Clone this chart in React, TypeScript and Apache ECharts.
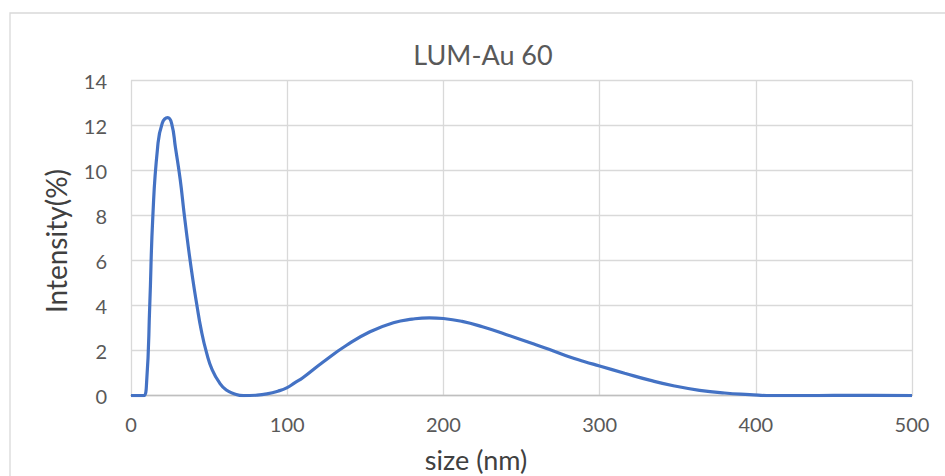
import React, { useEffect, useRef } from "react";
import * as echarts from "echarts";

const chartTitle = "LUM-Au 60";
const xAxisTitle = "size (nm)";
const yAxisTitle = "Intensity(%)";

const sizeNm = [
  0, 5, 8, 10, 12, 14, 17, 20, 23.5, 26, 28.5, 31.5, 34, 36.7, 39.5, 42, 45, 48.4, 52, 57, 61, 65.5, 72, 80, 87, 94,
  100, 105, 110, 123, 138, 153, 168, 180, 191, 200, 212, 225, 240, 257, 268, 279, 290, 300, 316, 332, 348, 364, 380,
  396, 410, 430, 450, 475, 500,
];
const intensity = [
  0, 0, 0, 0.6, 4.0, 8.0, 11.0, 12.1, 12.35, 12.1, 11.0, 9.6, 8.1, 6.6, 5.2, 4.1, 2.9, 1.9, 1.15, 0.54, 0.25, 0.1, 0.0,
  0.02, 0.08, 0.2, 0.36, 0.58, 0.8, 1.5, 2.24, 2.84, 3.24, 3.4, 3.46, 3.43, 3.3, 3.06, 2.72, 2.32, 2.05, 1.76, 1.52,
  1.32, 1.0, 0.69, 0.43, 0.24, 0.12, 0.05, 0.0, 0.0, 0.01, 0.01, 0.0,
];

const FONT = "Lato";
const TEXT = "#595959";
const GRID = "#d9d9d9";

export default function App() {
  const ref = useRef<HTMLDivElement>(null);
  useEffect(() => {
    if (!ref.current) return;
    const chart = echarts.init(ref.current, undefined, { renderer: "svg" });
    const data = sizeNm.map((x, i) => [x, intensity[i]]);
    chart.setOption({
      animation: false,
      backgroundColor: "#ffffff",
      grid: { left: 131, right: 33, top: 80.5, bottom: 80.3, containLabel: false },
      xAxis: {
        type: "value",
        min: 0,
        max: 500,
        interval: 100,
        axisLine: { show: true, lineStyle: { color: "#bfbfbf", width: 1.3 } },
        axisTick: { show: false },
        splitLine: { show: true, showMinLine: true, showMaxLine: true, lineStyle: { color: GRID, width: 1.3 } },
        axisLabel: { color: TEXT, fontFamily: FONT, fontSize: 20, margin: 18 },
      },
      yAxis: {
        type: "value",
        min: 0,
        max: 14,
        interval: 2,
        axisLine: { show: false },
        axisTick: { show: false },
        splitLine: { show: true, showMinLine: true, showMaxLine: true, lineStyle: { color: GRID, width: 1.3 } },
        axisLabel: { color: TEXT, fontFamily: FONT, fontSize: 20, margin: 24 },
      },
      series: [
        {
          type: "line",
          data,
          smooth: 0.5,
          showSymbol: false,
          symbol: "none",
          lineStyle: { color: "#4472C4", width: 3.2 },
          z: 3,
        },
      ],
      graphic: [
        {
          type: "rect",
          shape: { x: 10, y: 13, width: 1000, height: 1000 },
          style: { fill: "none", stroke: GRID, lineWidth: 1.3 },
          silent: true,
          z: -1,
        },
        {
          type: "text",
          x: 483,
          y: 54,
          style: {
            text: chartTitle,
            fontFamily: FONT,
            fontSize: 27,
            fill: TEXT,
            textAlign: "center",
            textVerticalAlign: "middle",
          },
        },
        {
          type: "text",
          x: 476,
          y: 459,
          style: {
            text: xAxisTitle,
            fontFamily: FONT,
            fontSize: 27,
            fill: "#404040",
            textAlign: "center",
            textVerticalAlign: "middle",
          },
        },
        {
          type: "text",
          x: 56,
          y: 241,
          rotation: Math.PI / 2,
          style: {
            text: yAxisTitle,
            fontFamily: FONT,
            fontSize: 28,
            fill: "#404040",
            textAlign: "center",
            textVerticalAlign: "middle",
          },
        },
      ],
    });
    return () => chart.dispose();
  }, []);
  return <div ref={ref} style={{ position: "absolute", left: 0, top: 0, width: 945, height: 476 }} />;
}
